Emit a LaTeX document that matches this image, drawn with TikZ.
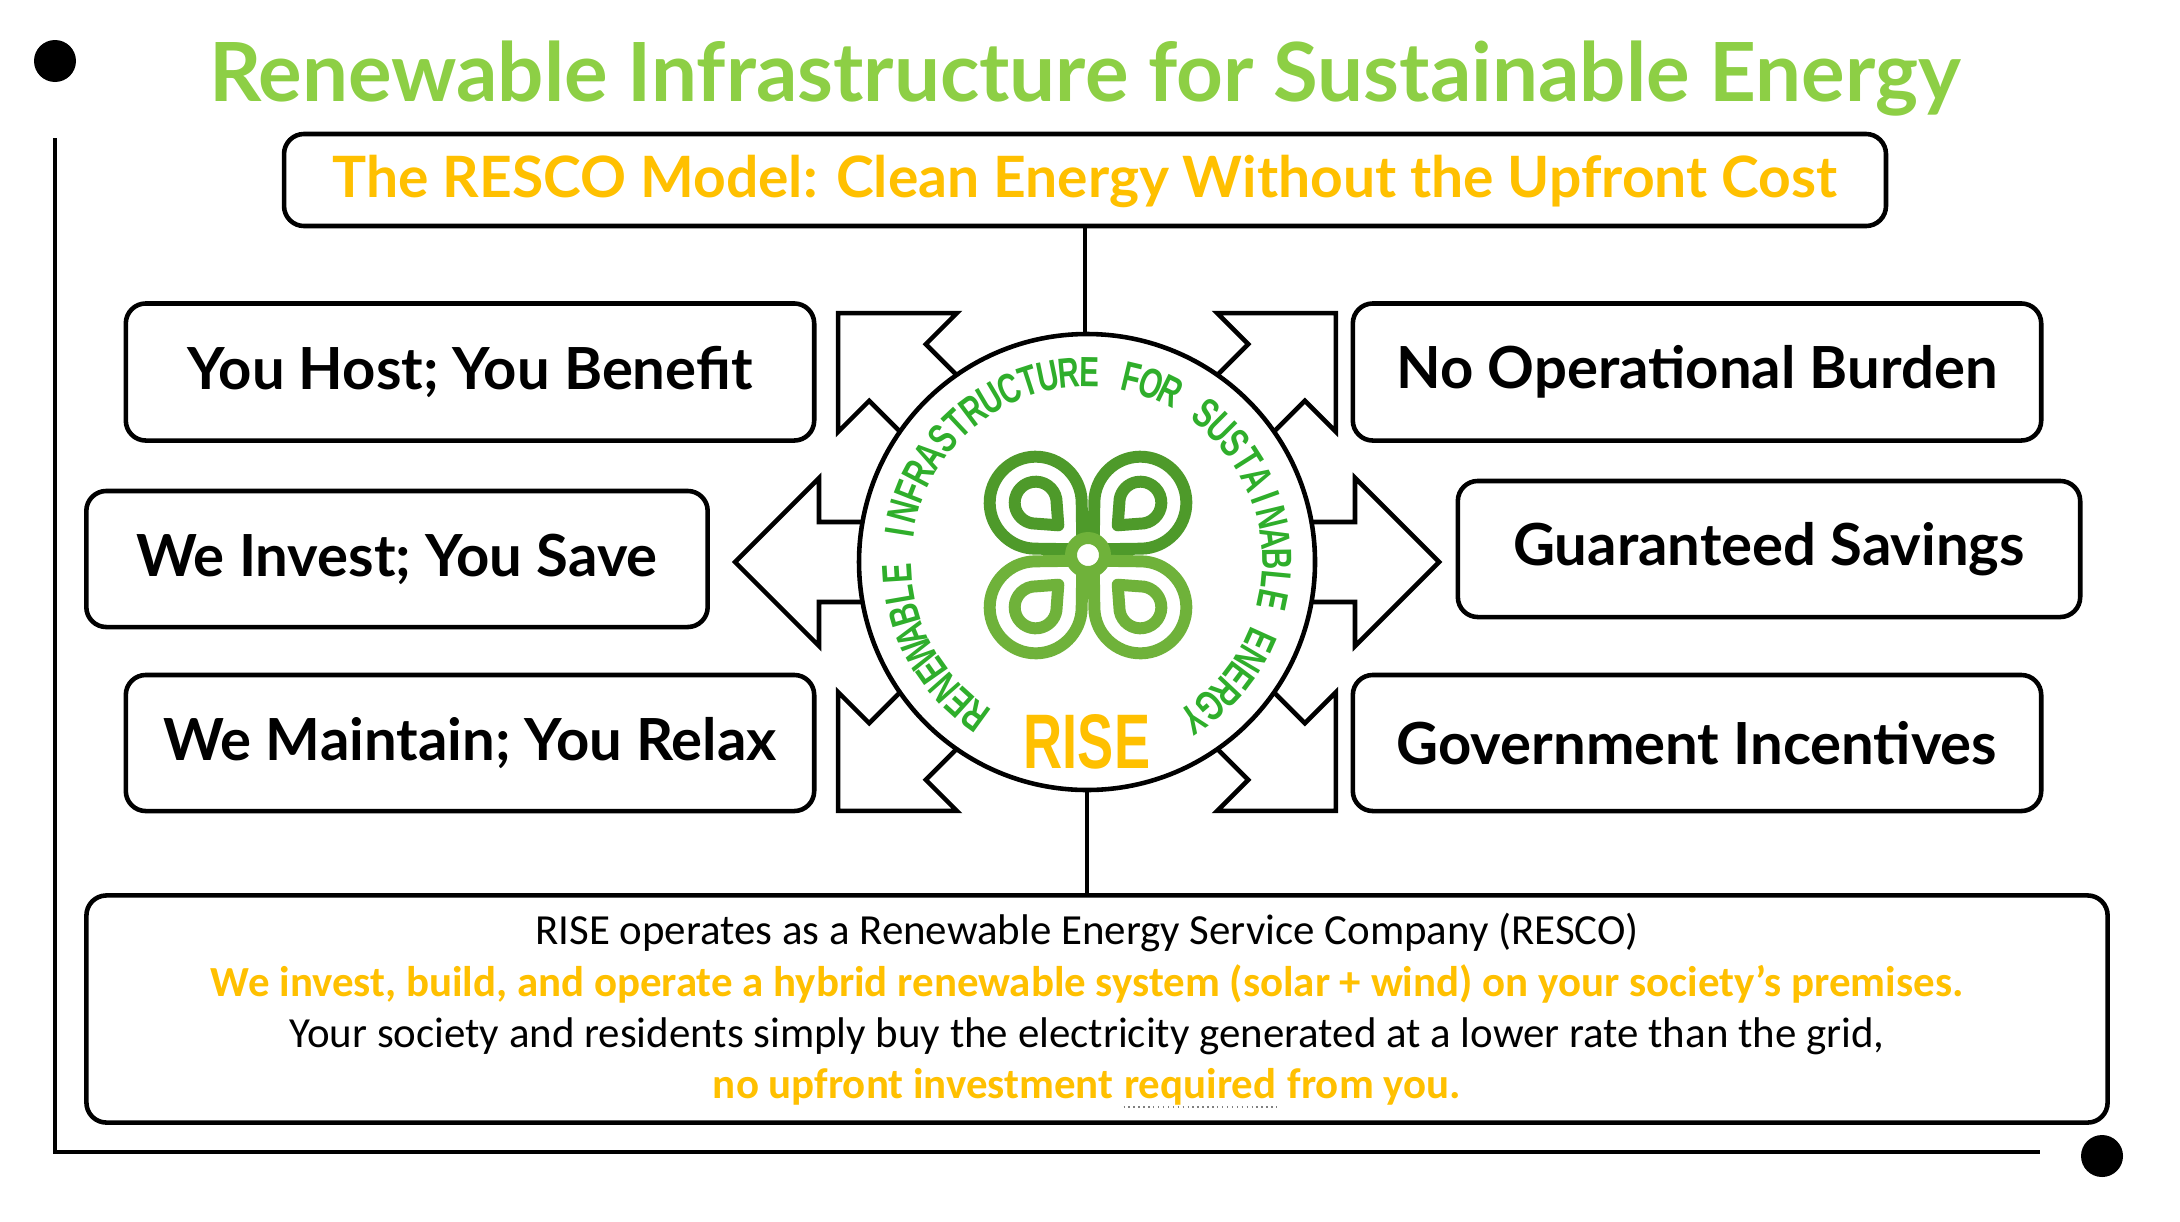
\documentclass[tikz,border=0pt]{standalone}
\usepackage{fontspec}
\setmainfont{Carlito}
\newfontfamily\lato{Lato}
\newfontfamily\cond[FakeStretch=0.7]{Liberation Sans}
\usetikzlibrary{calc}
\definecolor{tgreen}{HTML}{8DCF45}
\definecolor{tyellow}{HTML}{FFC000}
\definecolor{rgreen}{HTML}{2FAE2B}
\definecolor{lgreen}{HTML}{6FB23A}
\definecolor{dgreen}{HTML}{4E9A2A}
\begin{document}
\begin{tikzpicture}[x=0.01cm,y=-0.01cm,
  box/.style={draw,line width=1.3pt,rounded corners=0.2cm,fill=white},
  boxtxt/.style={font=\lato\bfseries\fontsize{16.5}{18}\selectfont},
  arr/.style={draw,line width=1.3pt,fill=white,line join=miter},
  band/.style={draw=lgreen,line width=3.4pt,line join=round}]
\useasboundingbox (0,0) rectangle (2180,1221);
\fill (55,61) circle (21);
\fill (2102,1156) circle (21);
\coordinate (lt) at (55,138); \coordinate (lb) at (55,1152); \coordinate (rb) at (2040,1152);
\draw[line width=1.3pt] (lt) -- (lb) -- (rb);
\node[text=tgreen,font=\lato\bfseries\fontsize{23.2}{28}\selectfont] (title) at (1085,79) {Renewable Infrastructure for Sustainable Energy};
\node[box,minimum width=16.01cm,minimum height=0.92cm] (sub) at (1085,180) {};
\node[text=tyellow,font=\lato\bfseries\fontsize{16.2}{20}\selectfont] (subt) at (1085,181) {The RESCO Model: Clean Energy Without the Upfront Cost};
\coordinate (C) at (1087,562);
\draw[line width=1.3pt] (sub.south) -- (1085,340);
\draw[line width=1.3pt] (1087,780) -- (1087,894);
\foreach \a in {0,45,135,180,225,315}{
  \draw[arr,shift={(C)},rotate=\a] (150,40)--(268,40)--(268,84)--(352,0)--(268,-84)--(268,-40)--(150,-40)--cycle;
}
\draw[line width=1.3pt,fill=white] (C) circle (228);
% logo
\foreach \a/\c in {45/dgreen,135/dgreen,225/lgreen,315/lgreen}{
  \begin{scope}[shift={(1088,555)},rotate=\a]
  \draw[band,draw=\c] (8,0) -- ($(74,0)+(134:46)$) arc[start angle=134,end angle=-134,radius=46] -- cycle;
  \draw[band,draw=\c] (42,0) -- ($(74,0)+(125:21)$) arc[start angle=125,end angle=-125,radius=21] -- cycle;
  \end{scope}
}
\draw[band,fill=white] (1088,555) circle (17);
% ring text
\foreach \ch [count=\i from 0] in {R,E,N,E,W,A,B,L,E,{},I,N,F,R,A,S,T,R,U,C,T,U,R,E,{},F,O,R,{},S,U,S,T,A,I,N,A,B,L,E,{},E,N,E,R,G,Y}{
  \pgfmathsetmacro\ang{234-\i*6.3}
  \node[text=rgreen,font=\cond\bfseries\fontsize{12}{13}\selectfont,rotate=\ang-90,inner sep=0] at ($(C)+({190*cos(\ang)},{-190*sin(\ang)})$) {\ch};
}
\node[text=tyellow,font=\cond\bfseries\fontsize{22}{24}\selectfont] (rise) at (1087,742) {RISE};
% boxes
\node[box,boxtxt,minimum width=6.88cm,minimum height=1.37cm] (b1) at (470,372) {You Host; You Benefit};
\node[box,boxtxt,minimum width=6.21cm,minimum height=1.36cm] (b2) at (397,559) {We Invest; You Save};
\node[box,boxtxt,minimum width=6.88cm,minimum height=1.36cm] (b3) at (470,743) {We Maintain; You Relax};
\node[box,boxtxt,minimum width=6.88cm,minimum height=1.37cm] (b4) at (1697,372) {No Operational Burden};
\node[box,boxtxt,minimum width=6.22cm,minimum height=1.36cm] (b5) at (1769,549) {Guaranteed Savings};
\node[box,boxtxt,minimum width=6.88cm,minimum height=1.36cm] (b6) at (1697,743) {Government Incentives};
\node[box,minimum width=20.2cm,minimum height=2.27cm] (bot) at (1097,1009) {};
\node[font=\fontsize{12.2}{14}\selectfont] (l1) at (1087,932) {RISE operates as a Renewable Energy Service Company (RESCO)};
\node[font=\bfseries\fontsize{12.2}{14}\selectfont,text=tyellow] (l2) at (1087,984) {We invest, build, and operate a hybrid renewable system (solar + wind) on your society’s premises.};
\node[font=\fontsize{12.2}{14}\selectfont] (l3) at (1087,1036) {Your society and residents simply buy the electricity generated at a lower rate than the grid,};
\node[font=\bfseries\fontsize{12.2}{14}\selectfont,text=tyellow] (l4) at (1087,1088) {no upfront investment \tikz[baseline]{\node[inner sep=0,anchor=base] (rq) {required};\draw[densely dotted,thin,gray] ([yshift=-2.5pt]rq.base west) -- ([yshift=-2.5pt]rq.base east);} from you.};
\end{tikzpicture}
\end{document}
